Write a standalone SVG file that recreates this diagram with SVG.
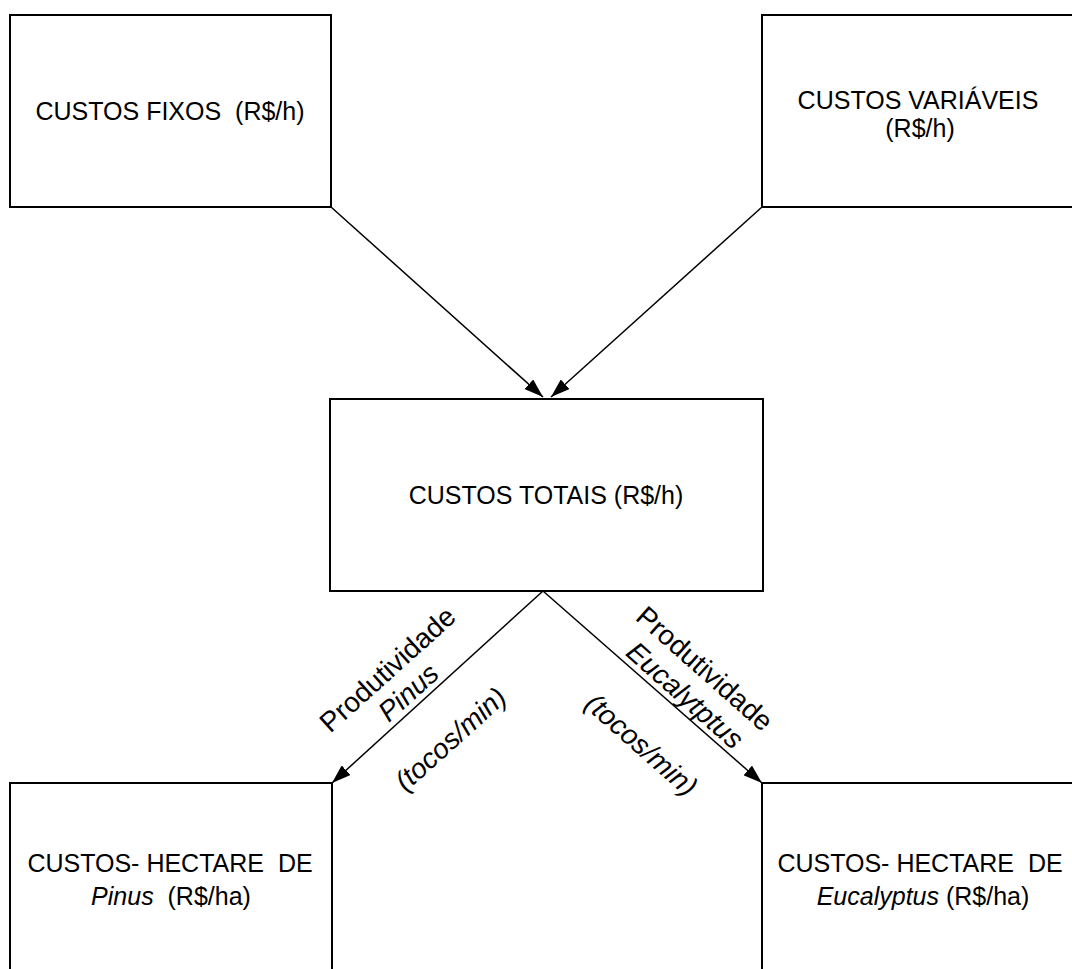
<svg xmlns="http://www.w3.org/2000/svg" width="1072" height="969" viewBox="0 0 1072 969">
<style>
.box{fill:#fff;stroke:#000;stroke-width:2}
.t{font-family:"Liberation Sans",Arial,sans-serif;font-size:25px;fill:#000;text-anchor:middle;white-space:pre}
.r{font-family:"Liberation Sans",Arial,sans-serif;font-size:28px;fill:#000;text-anchor:middle;white-space:pre}
.i{font-style:italic}
.c{fill:none;stroke:#000;stroke-width:1.5}
</style>
<defs>
<marker id="ah" markerUnits="userSpaceOnUse" markerWidth="19" markerHeight="13" refX="19" refY="6.5" orient="auto">
<path d="M0,0 L19,6.5 L0,13 z" fill="#000"/>
</marker>
</defs>
<rect width="1072" height="969" fill="#fff"/>
<g id="connectors">
<line class="c" x1="331" y1="207" x2="543" y2="397" marker-end="url(#ah)"/>
<line class="c" x1="762" y1="207" x2="551" y2="397" marker-end="url(#ah)"/>
<line class="c" x1="543" y1="591" x2="332" y2="783" marker-end="url(#ah)"/>
<line class="c" x1="543" y1="591" x2="762" y2="783" marker-end="url(#ah)"/>
</g>
<g id="fixos">
<rect class="box" x="10" y="15" width="321" height="192"/>
<text class="t" x="170" y="120">CUSTOS FIXOS  (R$/h)</text>
</g>
<g id="variaveis">
<rect class="box" x="762" y="15" width="314" height="192"/>
<text class="t" x="918" y="109">CUSTOS VARIÁVEIS</text>
<text class="t" x="920" y="137">(R$/h)</text>
</g>
<g id="totais">
<rect class="box" x="330" y="399" width="433" height="192"/>
<text class="t" x="546" y="504">CUSTOS TOTAIS (R$/h)</text>
</g>
<g id="pinus">
<rect class="box" x="10" y="783" width="322" height="200"/>
<text class="t" x="170" y="872">CUSTOS- HECTARE  DE</text>
<text class="t" x="171" y="905"><tspan class="i">Pinus</tspan>  (R$/ha)</text>
</g>
<g id="eucalyptus">
<rect class="box" x="762" y="783" width="314" height="200"/>
<text class="t" x="920" y="872">CUSTOS- HECTARE  DE</text>
<text class="t" x="923" y="905"><tspan class="i">Eucalyptus</tspan> (R$/ha)</text>
</g>
<g id="label-pinus" transform="translate(387.3,669) rotate(-42)">
<text class="r" x="0" y="10">Produtividade</text>
<text class="r i" x="0" y="41">Pinus</text>
<text class="r i" x="0" y="104">(tocos/min)</text>
</g>
<g id="label-eucalyptus" transform="translate(705,668.3) rotate(41.5)">
<text class="r" x="0" y="10">Produtividade</text>
<text class="r i" x="3" y="43">Eucalytptus</text>
<text class="r i" x="3" y="109">(tocos/min)</text>
</g>
</svg>
